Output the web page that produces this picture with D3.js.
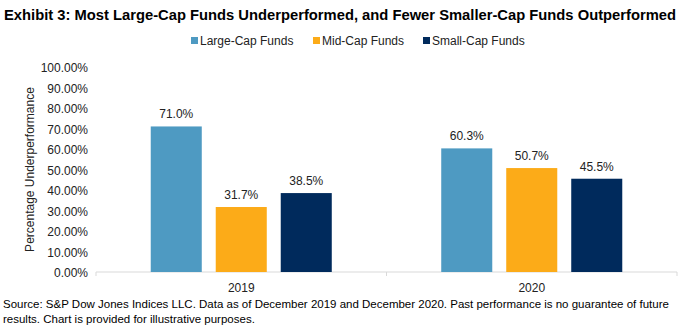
<!DOCTYPE html>
<html>
<head>
<meta charset="utf-8">
<script src="https://cdn.jsdelivr.net/npm/d3@7"></script>
<style>
  body { margin: 0; background: #fff; }
  svg { font-family: "Liberation Sans", Arial, sans-serif; }
</style>
</head>
<body>
<div class="bar-graph"></div>
<script>
// chart data
var years = ["2019", "2020"];
var series = ["Large-Cap Funds", "Mid-Cap Funds", "Small-Cap Funds"];
var largeCap = [71.0, 60.3];
var midCap = [31.7, 50.7];
var smallCap = [38.5, 45.5];
var yTicks = [0, 10, 20, 30, 40, 50, 60, 70, 80, 90, 100];
var colors = ["#4E9AC2", "#FCAB18", "#002A5C"];

var width = 691, height = 336;

var svg = d3.select(".bar-graph").append("svg")
    .attr("width", width)
    .attr("height", height);

// build rows
var values = [largeCap, midCap, smallCap];
var data = [];
years.forEach(function (yr, i) {
    series.forEach(function (s, j) {
        data.push({year: yr, series: s, value: values[j][i], color: colors[j]});
    });
});

// scales
var x = d3.scaleBand()
    .domain(years)
    .range([96, 677]);
var xInner = d3.scaleBand()
    .domain(series)
    .range([0, x.bandwidth()])
    .paddingInner(0.215)
    .paddingOuter(0.842);
var y = d3.scaleLinear()
    .domain([0, 100])
    .range([272, 67]);

// title
svg.append("text")
    .attr("x", 4)
    .attr("y", 20)
    .style("font-size", "15px")
    .style("font-weight", "bold")
    .attr("fill", "#000")
    .attr("textLength", 672)
    .attr("lengthAdjust", "spacingAndGlyphs")
    .text("Exhibit 3: Most Large-Cap Funds Underperformed, and Fewer Smaller-Cap Funds Outperformed");

// legend
var legendX = [191, 313, 423];
series.forEach(function (s, j) {
    svg.append("rect")
        .attr("x", legendX[j])
        .attr("y", 37)
        .attr("width", 7)
        .attr("height", 7)
        .style("fill", colors[j]);
    svg.append("text")
        .attr("x", legendX[j] + 9)
        .attr("y", 45)
        .style("font-size", "12px")
        .attr("fill", "#222")
        .text(s);
});

// y axis (labels only)
var yAxis = svg.append("g")
    .attr("transform", "translate(88,0)")
    .call(d3.axisLeft(y)
        .tickValues(yTicks)
        .tickSize(0)
        .tickPadding(0)
        .tickFormat(function (d) { return d.toFixed(2) + "%"; }));
yAxis.select(".domain").remove();
yAxis.selectAll("text")
    .style("font-size", "12px")
    .style("font-family", "'Liberation Sans', Arial, sans-serif")
    .attr("fill", "#222")
    .attr("dy", "0.4em");

svg.append("text")
    .attr("transform", "translate(34," + ((y(0) + y(100)) / 2) + ") rotate(-90)")
    .attr("text-anchor", "middle")
    .style("font-size", "12px")
    .attr("fill", "#222")
    .text("Percentage Underperformance");

// x axis
var xAxis = svg.append("g")
    .attr("transform", "translate(0," + y(0) + ")")
    .call(d3.axisBottom(x).tickSize(0).tickPadding(11));
xAxis.select(".domain")
    .attr("stroke", "#D9D9D9")
    .attr("d", "M96,0H677");
xAxis.selectAll("text")
    .style("font-size", "12px")
    .style("font-family", "'Liberation Sans', Arial, sans-serif")
    .attr("fill", "#222");
// category boundary ticks
xAxis.selectAll(".bound")
    .data([x("2019"), x("2020"), x("2020") + x.bandwidth()])
    .enter().append("line")
    .attr("class", "bound")
    .attr("x1", function (d) { return d; })
    .attr("x2", function (d) { return d; })
    .attr("y1", 0)
    .attr("y2", 4)
    .attr("stroke", "#D9D9D9");

// bars
svg.selectAll(".bar")
    .data(data)
    .enter().append("rect")
    .attr("class", "bar")
    .attr("x", function (d) { return x(d.year) + xInner(d.series); })
    .attr("width", xInner.bandwidth())
    .attr("y", function (d) { return y(d.value); })
    .attr("height", function (d) { return y(0) - y(d.value); })
    .style("fill", function (d) { return d.color; });

// value labels
svg.selectAll(".label")
    .data(data)
    .enter().append("text")
    .attr("class", "label")
    .attr("x", function (d) { return x(d.year) + xInner(d.series) + xInner.bandwidth() / 2; })
    .attr("y", function (d) { return y(d.value) - 8; })
    .attr("text-anchor", "middle")
    .style("font-size", "12px")
    .attr("fill", "#222")
    .text(function (d) { return d.value.toFixed(1) + "%"; });

// source note
svg.append("text")
    .attr("x", 3)
    .attr("y", 308)
    .style("font-size", "11.5px")
    .attr("fill", "#000")
    .text("Source: S&P Dow Jones Indices LLC. Data as of December 2019 and December 2020. Past performance is no guarantee of future");
svg.append("text")
    .attr("x", 3)
    .attr("y", 323)
    .style("font-size", "11.5px")
    .attr("fill", "#000")
    .text("results. Chart is provided for illustrative purposes.");
</script>
</body>
</html>
